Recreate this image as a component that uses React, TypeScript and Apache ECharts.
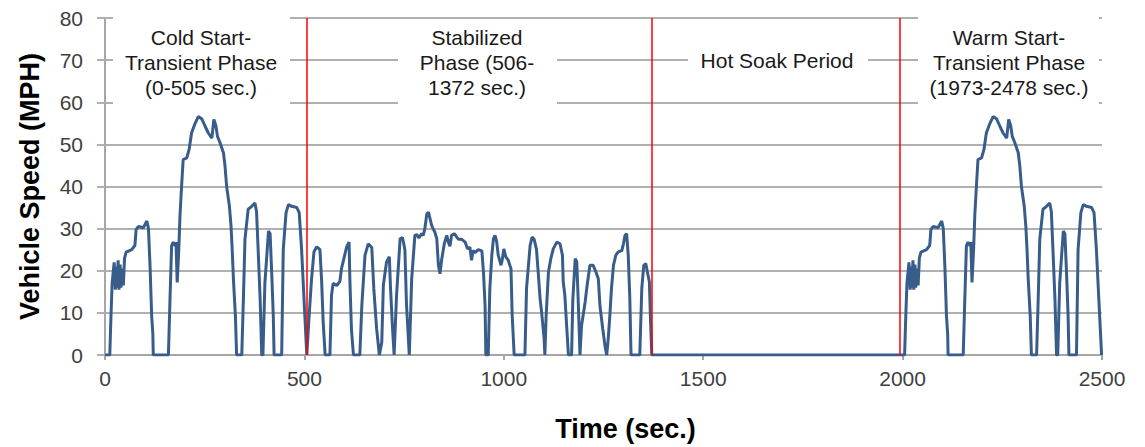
import React, { useEffect, useRef } from "react";
import * as echarts from "echarts";

// Cold Start - Transient Phase (sec, mph)
const coldTime = [0,12,15,18,23,26,28,30,33,35,38,40,43,46,49,53,67,75,78,84,96,105,109,113,117,120,121,159,163,167,171,176,178,181,185,188,192,196,205,211,217,226,234,243,251,259,268,273,278,282,288,297,301,305,312,316,319,322,327,330,343,347,351,359,368,376,380,384,389,393,396,401,410,414,418,422,424,443,447,454,460,468,481,487,493,499,506];
const coldSpeed = [0,0,9.3,17.2,22,15.5,21,16,22.5,15.5,21.5,16,20.5,16.5,23,24.4,25,26,29.8,30.5,30.2,31.8,30,21,9.3,5,0,0,13.3,25.9,26.8,25.9,26.8,17.2,25,33,40,46.4,46.8,48.8,52.7,55,56.6,56,54.3,52.7,51.5,55.9,54.5,51.9,50.5,48,44.8,40,35.3,30.6,25,18,9.3,0,0,13.3,27.5,34.6,35.3,36.1,34,25,13.3,0,0,17.2,29.4,28.8,19.6,9.3,0,0,25,33.8,35.7,35.3,35,33.8,25,13.3,0];

// Stabilized Phase
const stabTime = [506,512,518,524,531,539,543,547,552,564,568,572,581,589,593,599,606,612,614,618,623,639,644,652,660,669,674,681,688,694,698,706,713,716,721,725,731,740,746,752,756,763,769,777,782,787,794,798,802,807,811,815,819,823,827,832,836,840,844,851,857,861,865,869,876,882,886,894,903,909,915,919,923,928,936,945,949,953,955,961,965,970,974,978,982,986,993,996,1000,1005,1011,1018,1021,1026,1053,1057,1066,1071,1076,1082,1086,1091,1095,1097,1101,1103,1106,1112,1118,1124,1133,1141,1147,1149,1153,1158,1162,1170,1173,1179,1183,1187,1191,1195,1204,1209,1216,1224,1231,1237,1241,1248,1254,1258,1262,1266,1270,1275,1281,1287,1296,1300,1304,1308,1312,1316,1319,1341,1346,1351,1356,1360,1365,1368,1371];
const stabSpeed = [0,9.5,18.1,24.5,25.7,25,18,8,0,0,14.2,17,16.5,17.5,20.5,22.9,25.7,26.8,18,6,0,0,11.8,23.7,26.4,25.5,15.8,6.3,0,3,16.6,22.1,23.3,15.8,6.3,0,14,27.6,27.9,25,12,0,18,28.4,28.6,27.8,28.8,28.4,30,33.5,33.9,32.4,30.8,29.9,29.2,27.6,21.3,19.3,22.5,26.5,28.4,26.8,25.8,28.4,28.8,28,27.5,27.5,26.8,25.2,25.6,22.5,24.8,24.3,25,24.7,19.7,11.8,0,0,15.8,23.7,27.6,28.4,27,23.7,21.3,22.5,25.2,23.3,22.5,20.5,9.5,0,0,15.8,26,28,27.5,25,20,13.4,10,7.9,4,0,9,19.7,22.9,25.2,26.8,26.4,23.7,17.4,14.2,6.3,0,0,13,22.9,22.1,11.8,0,7,12.6,16.6,21.3,21.3,19.7,18.1,11.8,6.3,2,0,4,9.5,15.8,21.3,23.7,24.5,24.8,26.4,28.4,28.8,23.7,13.4,0,0,15.8,21.3,21.7,19.7,17.4,8,0];

// Warm Start - Transient Phase
const warmTime = [1993,2005,2008,2011,2016,2019,2021,2023,2026,2028,2031,2033,2036,2039,2042,2046,2060,2068,2071,2077,2089,2098,2102,2106,2110,2113,2114,2152,2156,2160,2164,2169,2171,2174,2178,2181,2185,2189,2198,2204,2210,2219,2227,2236,2244,2252,2261,2266,2271,2275,2281,2290,2294,2298,2305,2309,2312,2315,2320,2323,2336,2340,2344,2352,2361,2369,2373,2377,2382,2386,2389,2394,2403,2407,2411,2415,2417,2436,2440,2447,2453,2461,2474,2480,2486,2492,2499];
const warmSpeed = [0,0,9.3,17.2,22,15.5,21,16,22.5,15.5,21.5,16,20.5,16.5,23,24.4,25,26,29.8,30.5,30.2,31.8,30,21,9.3,5,0,0,13.3,25.9,26.8,25.9,26.8,17.2,25,33,40,46.4,46.8,48.8,52.7,55,56.6,56,54.3,52.7,51.5,55.9,54.5,51.9,50.5,48,44.8,40,35.3,30.6,25,18,9.3,0,0,13.3,27.5,34.6,35.3,36.1,34,25,13.3,0,0,17.2,29.4,28.8,19.6,9.3,0,0,25,33.8,35.7,35.3,35,33.8,25,13.3,0];

// Phase boundaries (sec)
const phaseBounds = [505, 1372, 1993];

const xTicks = { min: 0, max: 2500, interval: 500 };
const yTicks = { min: 0, max: 80, interval: 10 };

const annotations = [
  { text: "Cold Start-\nTransient Phase\n(0-505 sec.)", box: [113, 14, 177, 92], cx: 201, ty: 24.5 },
  { text: "Stabilized\nPhase (506-\n1372 sec.)", box: [398, 23, 159, 83], cx: 477, ty: 24.5 },
  { text: "Hot Soak Period", box: [688, 47, 180, 27], cx: 777, ty: 48 },
  { text: "Warm Start-\nTransient Phase\n(1973-2478 sec.)", box: [918, 14, 181, 92], cx: 1009, ty: 24.5 },
];

const FONT = '"Liberation Sans", Arial, sans-serif';

function pairs(t: number[], v: number[]) {
  return t.map((x, i) => [x, v[i]]);
}

export default function App() {
  const ref = useRef<HTMLDivElement>(null);
  useEffect(() => {
    if (!ref.current) return;
    const chart = echarts.init(ref.current, null, { renderer: "svg" });
    const data = [
      ...pairs(coldTime, coldSpeed),
      ...pairs(stabTime, stabSpeed),
      ...pairs(warmTime, warmSpeed),
    ];
    const graphics: any[] = [];
    annotations.forEach((a) => {
      graphics.push({
        type: "rect",
        z: 10,
        shape: { x: a.box[0], y: a.box[1], width: a.box[2], height: a.box[3] },
        style: { fill: "#ffffff" },
      });
      graphics.push({
        type: "text",
        z: 11,
        style: {
          text: a.text,
          x: a.cx,
          y: a.ty,
          align: "center",
          verticalAlign: "top",
          lineHeight: 25,
          font: `21px ${FONT}`,
          fill: "#1a1a1a",
        },
      });
    });
    chart.setOption({
      animation: false,
      backgroundColor: "#ffffff",
      textStyle: { fontFamily: FONT },
      grid: { left: 105, right: 43, top: 18, bottom: 91 },
      xAxis: {
        type: "value",
        min: xTicks.min,
        max: xTicks.max,
        interval: xTicks.interval,
        name: "Time (sec.)",
        nameLocation: "middle",
        nameGap: 60,
        nameTextStyle: { fontSize: 27, fontWeight: "bold", color: "#000", fontFamily: FONT, padding: [0, 0, 0, 44] },
        axisLine: { show: true, lineStyle: { color: "#a6a6a6", width: 2 } },
        axisTick: { show: true, length: 5, lineStyle: { color: "#a6a6a6", width: 2 } },
        axisLabel: { fontSize: 21, color: "#404040", margin: 13, fontFamily: FONT, formatter: (v: number) => String(v) },
        splitLine: { show: false },
      },
      yAxis: {
        type: "value",
        min: yTicks.min,
        max: yTicks.max,
        interval: yTicks.interval,
        name: "Vehicle Speed (MPH)",
        nameLocation: "middle",
        nameGap: 62,
        nameTextStyle: { fontSize: 27, fontWeight: "bold", color: "#000", fontFamily: FONT },
        axisLine: { show: true, lineStyle: { color: "#a6a6a6", width: 2 } },
        axisTick: { show: true, length: 8, lineStyle: { color: "#b0b0b0", width: 2 } },
        axisLabel: { fontSize: 21, color: "#404040", margin: 22, fontFamily: FONT, formatter: (v: number) => String(v) },
        splitLine: { show: true, lineStyle: { color: "#b0b0b0", width: 2 } },
      },
      series: [
        {
          type: "line",
          data,
          showSymbol: false,
          symbol: "none",
          lineStyle: { color: "#385d8a", width: 3 },
          z: 3,
          markLine: {
            silent: true,
            symbol: "none",
            label: { show: false },
            lineStyle: { color: "#ff0000", width: 1.5, type: "solid" },
            data: phaseBounds.map((b) => ({ xAxis: b })),
          },
        },
      ],
      graphic: graphics,
    });
    return () => chart.dispose();
  }, []);
  return (
    <div
      ref={ref}
      style={{ position: "absolute", left: 0, top: 0, width: "1145px", height: "447px" }}
    />
  );
}
